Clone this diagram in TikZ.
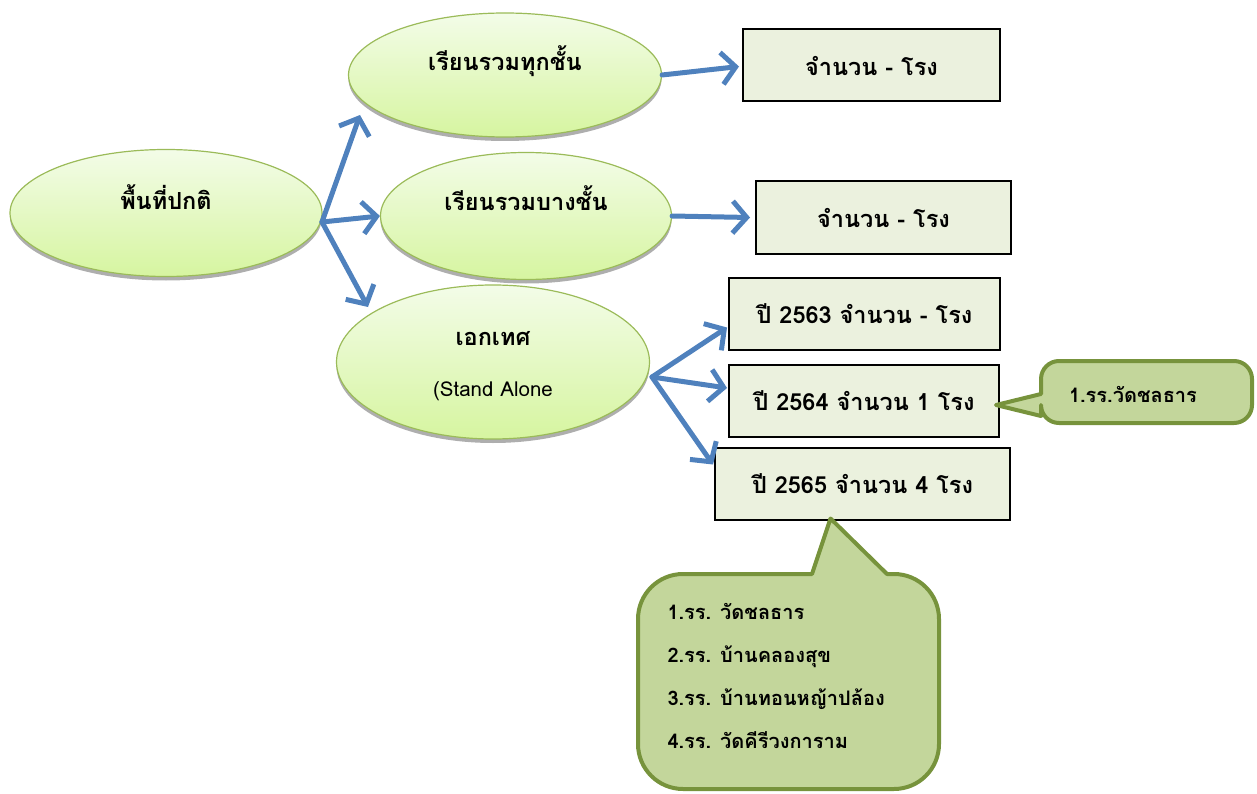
\documentclass[tikz,border=0pt]{standalone}
\usepackage{fontspec}
\newfontfamily\thaifont[Script=Thai]{Loma}
\usetikzlibrary{arrows.meta,shapes.geometric,shadows}

\definecolor{ovalline}{HTML}{9BBB59}
\definecolor{ovaltop}{HTML}{F3FCE8}
\definecolor{ovalbottom}{HTML}{D6F5A0}
\definecolor{boxfill}{HTML}{EBF1DE}
\definecolor{flowblue}{HTML}{4F81BD}
\definecolor{balloonfill}{HTML}{C3D69B}
\definecolor{balloonline}{HTML}{77933C}

\tikzset{
  oval/.style={ellipse, draw=ovalline, line width=1.2pt, top color=ovaltop,
    bottom color=ovalbottom, inner sep=0pt,
    drop shadow={shadow xshift=0pt, shadow yshift=-4pt, fill=black!45, opacity=.7}},
  ovaltext/.style={font=\thaifont\bfseries\fontsize{23.5}{28}\selectfont},
  countbox/.style={draw=black, line width=2pt, fill=boxfill, minimum height=72pt,
    inner sep=0pt, font=\thaifont\bfseries\fontsize{23.5}{28}\selectfont},
  flow/.style={draw=flowblue, line width=5pt, line cap=round,
    -{Straight Barb[length=14pt,width=32pt]}},
  balloon/.style={draw=balloonline, fill=balloonfill, line width=4pt, line join=round},
  balloontext/.style={font=\thaifont\bfseries\fontsize{20}{43}\selectfont}
}

\begin{document}
\begin{tikzpicture}[x=1pt,y=-1pt]
  \useasboundingbox (0,0) rectangle (1257,794);

  \node[oval, minimum width=312pt, minimum height=127pt] (normal) at (166,213) {};
  \node[oval, minimum width=313pt, minimum height=124pt] (allclass) at (505,75) {};
  \node[oval, minimum width=291pt, minimum height=127pt] (someclass) at (526,216) {};
  \node[oval, minimum width=313pt, minimum height=154pt] (alone) at (493,362) {};

  \node[ovaltext] (normaltext) at ([yshift=16pt]normal.center) {พื้นที่ปกติ};
  \node[ovaltext] (allclasstext) at ([yshift=14pt]allclass.center) {เรียนรวมทุกชั้น};
  \node[ovaltext] (someclasstext) at ([yshift=18pt]someclass.center) {เรียนรวมบางชั้น};
  \node[ovaltext] (alonetext) at ([yshift=23pt]alone.center) {เอกเทศ};
  \node[font=\thaifont\fontsize{20.5}{24}\selectfont] (alonesub) at ([yshift=-29pt]alone.center) {(Stand Alone};

  \node[countbox, minimum width=257pt] (count1) at (871.5,65.5) {จำนวน - โรง};
  \node[countbox, minimum width=255pt] (count2) at (883.5,217.5) {จำนวน - โรง};
  \node[countbox, minimum width=271pt] (year63) at (864.5,313.5) {ปี 2563 จำนวน - โรง};
  \node[countbox, minimum width=270pt] (year64) at (864,401) {ปี 2564 จำนวน 1 โรง};
  \node[countbox, minimum width=295pt] (year65) at (862.5,483.5) {ปี 2565 จำนวน 4 โรง};

  \coordinate (fork1) at (322,222);
  \coordinate (fork2) at (652,377);
  \draw[flow] (fork1) -- (360,115);
  \draw[flow] (fork1) -- (someclass.west);
  \draw[flow] (fork1) -- (368,307);
  \draw[flow] (allclass.east) -- ([xshift=-3pt,yshift=-1pt]count1.west);
  \draw[flow] (someclass.east) -- ([xshift=-5pt]count2.west);
  \draw[flow] (fork2) -- ([xshift=-1pt,yshift=-14pt]year63.west);
  \draw[flow] (fork2) -- ([xshift=-1pt,yshift=13pt]year64.west);
  \draw[flow] (fork2) -- ([xshift=-1pt,yshift=-18pt]year65.north west);

  \draw[balloon] ([xshift=-4pt,yshift=-4pt]year64.east) -- (1041,394)
    [rounded corners=18pt] -- (1041,361) -- (1252,361) -- (1252,423) -- (1041,423)
    [sharp corners] -- (1041,416) -- cycle;
  \node[balloontext] (note64) at (1133,394) {1.รร.วัดชลธาร};

  \draw[balloon] ([xshift=-32pt,yshift=2pt]year65.south) -- (812,574)
    [rounded corners=45pt] -- (638,574) -- (638,789) -- (939,789) -- (939,574)
    [sharp corners] -- (887,574) -- cycle;
  \node[balloontext, align=left, anchor=north west] (note65) at (664,600)
    {1.รร. วัดชลธาร\\2.รร. บ้านคลองสุข\\3.รร. บ้านทอนหญ้าปล้อง\\4.รร. วัดคีรีวงการาม};
\end{tikzpicture}
\end{document}
